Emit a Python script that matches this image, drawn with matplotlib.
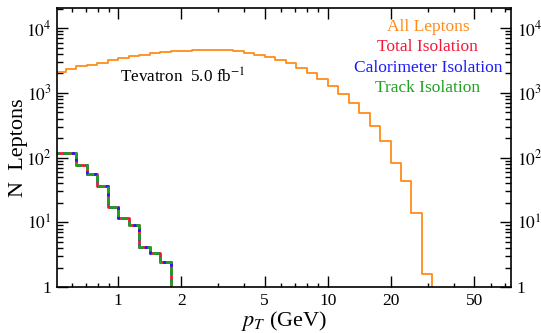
import numpy as np
import matplotlib
matplotlib.use('Agg')
import matplotlib.pyplot as plt
from matplotlib.ticker import FixedLocator, FuncFormatter, LogLocator, NullFormatter

plt.rcParams['font.family'] = ['Liberation Serif', 'DejaVu Serif']
plt.rcParams['mathtext.fontset'] = 'stix'

# bins: log10(pT) from -0.3 in steps of 0.05
log_edges_all = np.round(np.arange(-0.3, 1.5001, 0.05), 2)
log_edges_iso = np.round(np.arange(-0.3, 0.2501, 0.05), 2)

all_leptons = [2100, 2375, 2580, 2735, 2940, 3190, 3465, 3680, 3910, 4140,
               4290, 4400, 4450, 4600, 4620, 4670, 4650, 4445, 4200, 3910,
               3590, 3280, 2850, 2400, 2030, 1640, 1300, 955, 690, 485,
               310, 178, 84, 43.5, 14.1, 1.61]
total_iso = [118, 118, 76, 55, 36.5, 17.5, 11.7, 9.0, 4.1, 3.3, 2.4]
calo_iso = [118, 118, 76, 55, 36.5, 17.5, 11.7, 9.0, 4.1, 3.3, 2.4]
track_iso = [118, 118, 76, 55, 36.5, 17.5, 11.7, 9.0, 4.1, 3.3, 2.4]

labels = ['All Leptons', 'Total Isolation', 'Calorimeter Isolation', 'Track Isolation']
colors = ['#ff8c1a', '#f01838', '#1a1aff', '#22a022']


def steps(log_edges, vals):
    # append an empty bin so the line drops out of the plot
    x = 10 ** np.append(log_edges, log_edges[-1] + 0.05)
    y = np.append(vals, [1e-3, 1e-3])
    return x, y


fig = plt.figure(figsize=(5.41, 3.33), dpi=100)
ax = fig.add_axes([0.1054, 0.138, 0.8391, 0.838])

x, y = steps(log_edges_all, all_leptons)
ax.step(x, y, where='post', color=colors[0], lw=1.3)
x, y = steps(log_edges_iso, total_iso)
ax.step(x, y, where='post', color=colors[1], lw=2.0)
x, y = steps(log_edges_iso, calo_iso)
ax.step(x, y, where='post', color=colors[2], lw=2.0, ls=(0, (1.5, 1.5)))
x, y = steps(log_edges_iso, track_iso)
ax.step(x, y, where='post', color=colors[3], lw=2.0, ls=(1.0, (2.5, 1.5)))

ax.set_xscale('log')
ax.set_yscale('log')
ax.set_xlim(0.51, 75)
ax.set_ylim(1, 2.05e4)

ax.xaxis.set_major_locator(FixedLocator([1, 2, 5, 10, 20, 50]))
ax.xaxis.set_minor_locator(FixedLocator([0.6, 0.7, 0.8, 0.9, 3, 4, 6, 7, 8, 9, 30, 40, 60, 70]))
ax.xaxis.set_major_formatter(FuncFormatter(lambda v, p: '%g' % v))
ax.xaxis.set_minor_formatter(NullFormatter())

ax.yaxis.set_major_locator(LogLocator(base=10, numticks=10))
ax.yaxis.set_minor_locator(LogLocator(base=10, subs=np.arange(2, 10), numticks=10))
ax.yaxis.set_major_formatter(FuncFormatter(lambda v, p: '1' if v == 1 else r'$10^{%d}$' % round(np.log10(v))))
ax.yaxis.set_minor_formatter(NullFormatter())

ax.tick_params(which='both', direction='in', top=True, right=True, labelright=True, labelsize=12.5, width=1)
ax.tick_params(which='major', length=8, pad=4)
ax.tick_params(which='minor', length=4)
ax.tick_params(axis='x', which='minor', length=3)
for s in ax.spines.values():
    s.set_linewidth(1.2)

ax.set_xlabel(r'$p_T$ (GeV)', fontsize=16, labelpad=0)
ax.set_ylabel('N  Leptons', fontsize=16, labelpad=-1.5)

ax.text(0.139, 0.752, r'Tevatron  5.0 fb$^{-1}$', transform=ax.transAxes, fontsize=12.3, va='center')
for i, (lab, c) in enumerate(zip(labels, colors)):
    ax.text(0.817, 0.932 - i * 0.073, lab, color=c, transform=ax.transAxes,
            fontsize=12.5, ha='center', va='center')

fig.savefig('out.png', dpi=100)
